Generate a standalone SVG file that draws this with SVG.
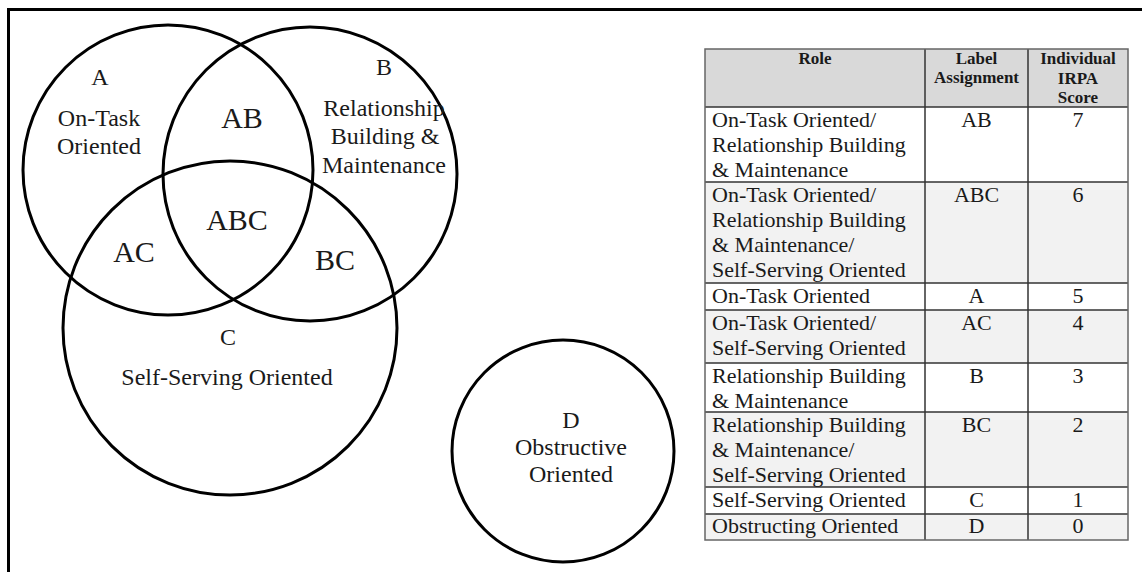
<svg xmlns="http://www.w3.org/2000/svg" width="1142" height="572" viewBox="0 0 1142 572">
  <style>
    .frame { stroke: #000; stroke-width: 3; fill: none; }
    .ring { fill: none; stroke: #000; stroke-width: 3; }
    .lbl { font-family: "Liberation Serif", "Times New Roman", serif; font-size: 24px; fill: #1a1a1a; text-anchor: middle; }
    .zone { font-family: "Liberation Serif", "Times New Roman", serif; font-size: 30px; fill: #1a1a1a; text-anchor: middle; }
    .cell { font-family: "Liberation Serif", "Times New Roman", serif; font-size: 22px; fill: #1a1a1a; }
    .mid { text-anchor: middle; }
    .hd { font-family: "Liberation Serif", "Times New Roman", serif; font-size: 17px; font-weight: bold; fill: #1a1a1a; text-anchor: middle; }
    .rule { stroke: #333; stroke-width: 1.5; }
    .odd { fill: #ffffff; }
    .even { fill: #f2f2f2; }
    .head { fill: #d9d9d9; }
  </style>

  <rect width="1142" height="572" fill="#fff"/>
  <!-- page frame: top and left edges -->
  <path class="frame" d="M8.5 572 V9.5 H1142"/>

  <!-- Venn diagram -->
  <g id="circle-a">
    <circle class="ring" cx="168" cy="170" r="145"/>
    <text class="lbl" x="100" y="85">A</text>
    <text class="lbl" x="99" y="126">On-Task</text>
    <text class="lbl" x="99" y="154">Oriented</text>
  </g>
  <g id="circle-b">
    <circle class="ring" cx="310" cy="174" r="147"/>
    <text class="lbl" x="384" y="75">B</text>
    <text class="lbl" x="384" y="116">Relationship</text>
    <text class="lbl" x="385" y="144">Building &amp;</text>
    <text class="lbl" x="384" y="173">Maintenance</text>
  </g>
  <g id="circle-c">
    <circle class="ring" cx="230" cy="328" r="167"/>
    <text class="lbl" x="228" y="345">C</text>
    <text class="lbl" x="227" y="385">Self-Serving Oriented</text>
  </g>
  <g id="overlaps">
    <text class="zone" x="242" y="128">AB</text>
    <text class="zone" x="237" y="230">ABC</text>
    <text class="zone" x="134" y="262">AC</text>
    <text class="zone" x="335" y="270">BC</text>
  </g>
  <g id="circle-d">
    <circle class="ring" cx="563" cy="451" r="111"/>
    <text class="lbl" x="571" y="428">D</text>
    <text class="lbl" x="571" y="455">Obstructive</text>
    <text class="lbl" x="571" y="482">Oriented</text>
  </g>

  <!-- Role / label / score table -->
  <g id="role-table">
    <rect class="head" x="705" y="49" width="423" height="58"/>
    <rect class="odd" x="705" y="107" width="423" height="75"/>
    <rect class="even" x="705" y="182" width="423" height="101"/>
    <rect class="odd" x="705" y="283" width="423" height="27"/>
    <rect class="even" x="705" y="310" width="423" height="53"/>
    <rect class="odd" x="705" y="363" width="423" height="49"/>
    <rect class="even" x="705" y="412" width="423" height="75"/>
    <rect class="odd" x="705" y="487" width="423" height="27"/>
    <rect class="even" x="705" y="514" width="423" height="26"/>

    <g class="rule">
      <line x1="705" y1="107" x2="1128" y2="107"/>
      <line x1="705" y1="182" x2="1128" y2="182"/>
      <line x1="705" y1="283" x2="1128" y2="283"/>
      <line x1="705" y1="310" x2="1128" y2="310"/>
      <line x1="705" y1="363" x2="1128" y2="363"/>
      <line x1="705" y1="412" x2="1128" y2="412"/>
      <line x1="705" y1="487" x2="1128" y2="487"/>
      <line x1="705" y1="514" x2="1128" y2="514"/>
      <line x1="925" y1="49" x2="925" y2="540"/>
      <line x1="1028" y1="49" x2="1028" y2="540"/>
    </g>
    <rect x="705" y="49" width="423" height="491" fill="none" stroke="#666" stroke-width="1.5"/>

    <text class="hd" x="815" y="64">Role</text>
    <text class="hd" x="976.5" y="64">Label</text>
    <text class="hd" x="976.5" y="83">Assignment</text>
    <text class="hd" x="1078" y="64">Individual</text>
    <text class="hd" x="1078" y="84">IRPA</text>
    <text class="hd" x="1078" y="103">Score</text>

    <text class="cell" x="712" y="127">On-Task Oriented/</text>
    <text class="cell" x="712" y="152">Relationship Building</text>
    <text class="cell" x="712" y="177">&amp; Maintenance</text>
    <text class="cell mid" x="976.5" y="127">AB</text>
    <text class="cell mid" x="1078" y="127">7</text>

    <text class="cell" x="712" y="202">On-Task Oriented/</text>
    <text class="cell" x="712" y="227">Relationship Building</text>
    <text class="cell" x="712" y="252">&amp; Maintenance/</text>
    <text class="cell" x="712" y="277">Self-Serving Oriented</text>
    <text class="cell mid" x="976.5" y="202">ABC</text>
    <text class="cell mid" x="1078" y="202">6</text>

    <text class="cell" x="712" y="303">On-Task Oriented</text>
    <text class="cell mid" x="976.5" y="303">A</text>
    <text class="cell mid" x="1078" y="303">5</text>

    <text class="cell" x="712" y="330">On-Task Oriented/</text>
    <text class="cell" x="712" y="355">Self-Serving Oriented</text>
    <text class="cell mid" x="976.5" y="330">AC</text>
    <text class="cell mid" x="1078" y="330">4</text>

    <text class="cell" x="712" y="383">Relationship Building</text>
    <text class="cell" x="712" y="408">&amp; Maintenance</text>
    <text class="cell mid" x="976.5" y="383">B</text>
    <text class="cell mid" x="1078" y="383">3</text>

    <text class="cell" x="712" y="432">Relationship Building</text>
    <text class="cell" x="712" y="457">&amp; Maintenance/</text>
    <text class="cell" x="712" y="482">Self-Serving Oriented</text>
    <text class="cell mid" x="976.5" y="432">BC</text>
    <text class="cell mid" x="1078" y="432">2</text>

    <text class="cell" x="712" y="507">Self-Serving Oriented</text>
    <text class="cell mid" x="976.5" y="507">C</text>
    <text class="cell mid" x="1078" y="507">1</text>

    <text class="cell" x="712" y="533">Obstructing Oriented</text>
    <text class="cell mid" x="976.5" y="533">D</text>
    <text class="cell mid" x="1078" y="533">0</text>
  </g>
</svg>
